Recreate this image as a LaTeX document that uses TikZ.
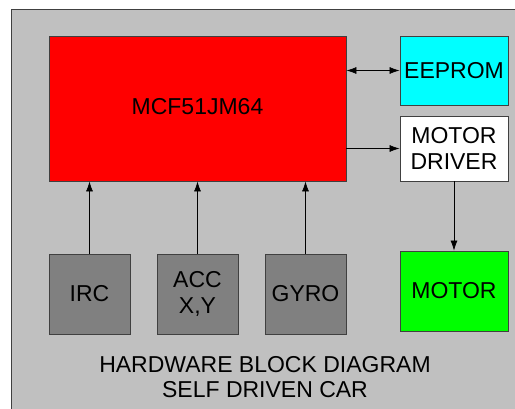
\documentclass[tikz,border=0pt]{standalone}
\usepackage{fontspec}
\setmainfont{Liberation Sans}
\usetikzlibrary{arrows.meta, positioning}
\definecolor{bggray}{RGB}{192,192,192}
\definecolor{sensgray}{RGB}{128,128,128}
\definecolor{edgegray}{RGB}{64,64,64}
\definecolor{mcured}{RGB}{255,0,0}
\definecolor{romcyan}{RGB}{0,255,255}
\definecolor{motgreen}{RGB}{0,255,0}
\tikzset{
  hwblock/.style={rectangle, draw=edgegray, line width=0.8pt,
    align=center, inner sep=0pt, font=\fontsize{23}{26.5}\selectfont},
  mcublock/.style={hwblock, fill=mcured, minimum width=297pt, minimum height=145pt},
  sideblock/.style={hwblock, minimum width=108pt},
  sensor/.style={hwblock, fill=sensgray, minimum width=81pt, minimum height=80pt},
  arrow/.style={-{Latex[length=10pt,width=7pt]}, line width=0.7pt, color=black},
  dblarrow/.style={{Latex[length=10pt,width=7pt]}-{Latex[length=10pt,width=7pt]}, line width=0.7pt, color=black}
}

\begin{document}
\begin{tikzpicture}[x=1pt, y=-1pt]
  \useasboundingbox (0,0) rectangle (515,409);
  \clip (0,0) rectangle (515,409);

  % Board background
  \draw[fill=bggray, draw=edgegray, line width=0.9pt] (11,9) rectangle (530,430);

  % Microcontroller
  \node[mcublock] (mcu) at (197.5,108.5) {\raisebox{5pt}{MCF51JM64}};

  % Memory and motor chain
  \node[sideblock, fill=romcyan, minimum height=69pt] (eeprom) at (454,70.5) {EEPROM};
  \node[sideblock, fill=white, minimum height=65pt] (driver) at (454,148.5) {MOTOR\\DRIVER};
  \node[sideblock, fill=motgreen, minimum height=80pt] (motor) at (454,291) {MOTOR};

  % Sensors
  \node[sensor] (irc) at (89.5,294) {IRC};
  \node[sensor] (acc) at (197.5,294) {ACC\\X,Y};
  \node[sensor] (gyro) at (305.5,294) {GYRO};

  % Title
  \node[font=\fontsize{23}{25.5}\selectfont, align=center] (title) at (265,377) {HARDWARE BLOCK DIAGRAM\\SELF DRIVEN CAR};

  % Connections
  \draw[dblarrow] (eeprom.west -| mcu.east) -- (eeprom.west);
  \draw[arrow] (driver.west -| mcu.east) -- (driver.west);
  \draw[arrow] (driver.south) -- (motor.north);
  \draw[arrow] (irc.north) -- (irc.north |- mcu.south);
  \draw[arrow] (acc.north) -- (acc.north |- mcu.south);
  \draw[arrow] (gyro.north) -- (gyro.north |- mcu.south);
\end{tikzpicture}
\end{document}
